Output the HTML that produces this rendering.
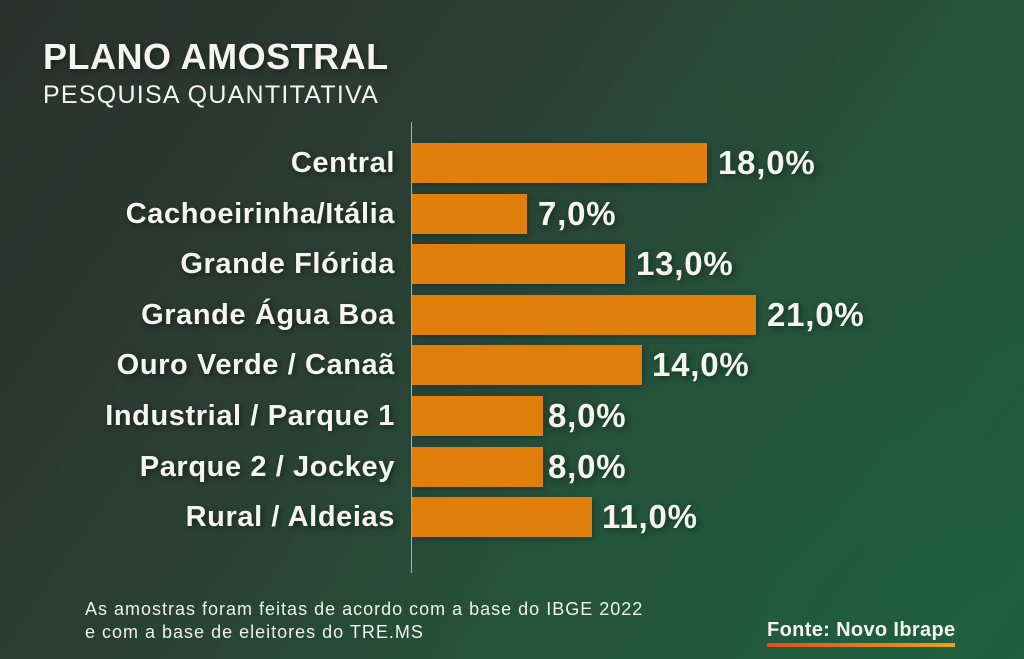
<!DOCTYPE html>
<html>
<head>
<meta charset="utf-8">
<style>
  html, body { margin:0; padding:0; }
  body {
    width:1024px; height:659px; overflow:hidden; position:relative;
    font-family:"Liberation Sans", sans-serif;
    background:
      radial-gradient(ellipse 700px 500px at 1024px 659px, rgba(30,96,62,0.55), rgba(30,96,62,0) 100%),
      linear-gradient(125deg, #2b2f2d 0%, #2b3b33 30%, #26513c 65%, #1f5d3d 100%);
    color:#f5f5ef;
  }
  .abs { position:absolute; white-space:nowrap; }
  .title { left:43px; top:38.5px; font-size:36px; line-height:36px; font-weight:bold; letter-spacing:0.5px; text-shadow:2px 2px 6px rgba(0,0,0,0.35); }
  .sub { left:43px; top:83px; font-size:25px; line-height:25px; letter-spacing:1.25px; }
  .axis { left:411px; top:122px; width:1px; height:451px; background:#a9b2ac; }
  .lab { right:629px; height:40px; line-height:40px; font-size:29px; font-weight:bold; letter-spacing:0.6px; text-align:right; text-shadow:2px 2px 6px rgba(0,0,0,0.45); }
  .bar { left:412px; height:40px; background:#e07f0c; box-shadow:2px 2px 6px rgba(0,0,0,0.25); }
  .val { height:40px; line-height:40px; font-size:33px; font-weight:bold; letter-spacing:0.8px; text-shadow:2px 2px 7px rgba(0,0,0,0.45); }
  .foot { left:85px; top:598px; font-size:18px; line-height:23px; letter-spacing:1px; color:#eef0ea; }
  .fonte { left:767px; top:620px; font-size:20px; line-height:20px; font-weight:bold; letter-spacing:0.35px; }
  .uline { left:767px; top:643px; width:188px; height:4px; background:linear-gradient(90deg,#df4f1c,#e8a312); }
</style>
</head>
<body>
  <div class="abs title">PLANO AMOSTRAL</div>
  <div class="abs sub">PESQUISA QUANTITATIVA</div>

  <div class="abs axis"></div>

  <div class="abs lab" style="top:143px">Central</div>
  <div class="abs bar" style="top:143px;width:295px"></div>
  <div class="abs val" style="top:143px;left:718px">18,0%</div>

  <div class="abs lab" style="top:193.6px">Cachoeirinha/Itália</div>
  <div class="abs bar" style="top:193.6px;width:115px"></div>
  <div class="abs val" style="top:193.6px;left:538px">7,0%</div>

  <div class="abs lab" style="top:244.2px">Grande Flórida</div>
  <div class="abs bar" style="top:244.2px;width:213px"></div>
  <div class="abs val" style="top:244.2px;left:636px">13,0%</div>

  <div class="abs lab" style="top:294.8px">Grande Água Boa</div>
  <div class="abs bar" style="top:294.8px;width:344px"></div>
  <div class="abs val" style="top:294.8px;left:767px">21,0%</div>

  <div class="abs lab" style="top:345.4px">Ouro Verde / Canaã</div>
  <div class="abs bar" style="top:345.4px;width:230px"></div>
  <div class="abs val" style="top:345.4px;left:652px">14,0%</div>

  <div class="abs lab" style="top:396px">Industrial / Parque 1</div>
  <div class="abs bar" style="top:396px;width:131px"></div>
  <div class="abs val" style="top:396px;left:548px">8,0%</div>

  <div class="abs lab" style="top:446.6px">Parque 2 / Jockey</div>
  <div class="abs bar" style="top:446.6px;width:131px"></div>
  <div class="abs val" style="top:446.6px;left:548px">8,0%</div>

  <div class="abs lab" style="top:497.2px">Rural / Aldeias</div>
  <div class="abs bar" style="top:497.2px;width:180px"></div>
  <div class="abs val" style="top:497.2px;left:602px">11,0%</div>

  <div class="abs foot">As amostras foram feitas de acordo com a base do IBGE 2022<br>e com a base de eleitores do TRE.MS</div>

  <div class="abs fonte">Fonte: Novo Ibrape</div>
  <div class="abs uline"></div>
</body>
</html>
